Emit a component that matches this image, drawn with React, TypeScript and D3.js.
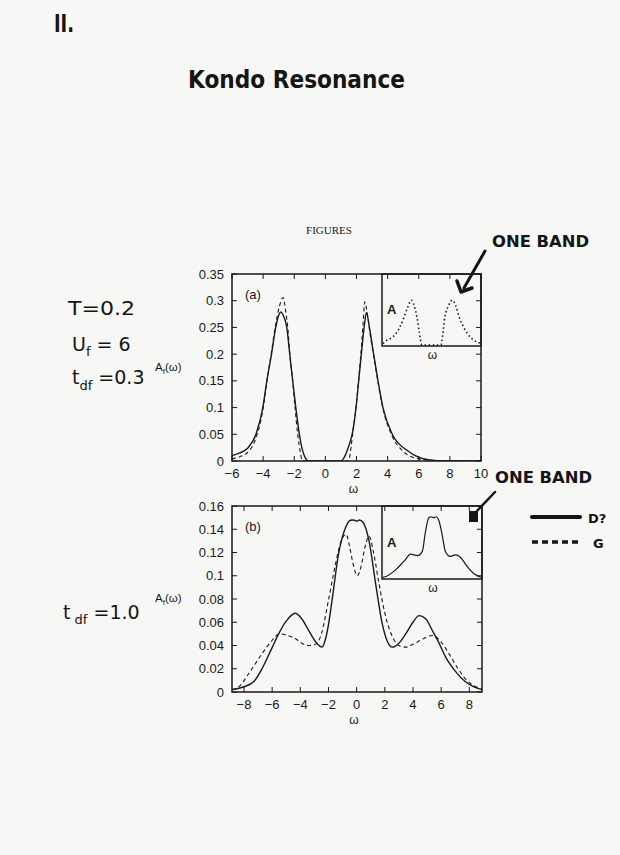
import React from "react";
import * as d3 from "d3";

// ---------- data ----------
// Panel (a): T=0.2, Uf=6, tdf=0.3
const aSolidW = [-6, -5.5, -5, -4.46, -4.02, -3.76, -3.46, -3.19, -3.0, -2.87, -2.7, -2.48, -2.29, -2.1, -1.9, -1.67, -1.45, -1.25, -1.1, 0, 1.0, 1.3, 1.5, 1.72, 1.97, 2.14, 2.31, 2.49, 2.64, 2.83, 3.1, 3.38, 3.7, 4.3, 5.24, 6, 7, 8, 10];
const aSolidA = [0.010, 0.015, 0.024, 0.05, 0.10, 0.15, 0.20, 0.25, 0.273, 0.279, 0.272, 0.25, 0.20, 0.15, 0.10, 0.05, 0.018, 0.004, 0, 0, 0, 0.012, 0.028, 0.05, 0.10, 0.15, 0.20, 0.25, 0.278, 0.25, 0.20, 0.15, 0.10, 0.05, 0.02, 0.007, 0.001, 0, 0];
const aDashW = [-6, -5.5, -5, -4.5, -4.02, -3.76, -3.46, -3.2, -2.95, -2.72, -2.55, -2.4, -2.3, -2.1, -1.95, -1.78, -1.6, -1.48, 0, 1.5, 1.6, 1.75, 1.97, 2.13, 2.28, 2.43, 2.53, 2.7, 2.9, 3.1, 3.38, 3.7, 4.3, 5.0, 6, 7, 10];
const aDashA = [0.004, 0.008, 0.016, 0.040, 0.095, 0.148, 0.205, 0.255, 0.29, 0.306, 0.28, 0.245, 0.205, 0.15, 0.10, 0.05, 0.015, 0, 0, 0, 0.015, 0.05, 0.10, 0.15, 0.20, 0.26, 0.298, 0.275, 0.232, 0.198, 0.148, 0.098, 0.046, 0.018, 0.004, 0.001, 0];

// Panel (b): tdf=1.0
const bSolidW = [-8.85, -8, -7.3, -6.72, -6.01, -5.54, -5.0, -4.36, -3.9, -3.41, -2.9, -2.46, -2.2, -2.0, -1.75, -1.28, -0.8, -0.45, -0.2, 0, 0.2, 0.45, 0.88, 1.35, 1.82, 2.2, 2.53, 3.0, 3.48, 4.0, 4.43, 4.9, 5.37, 5.85, 6.32, 7.0, 7.7, 8.22, 8.9];
const bSolidA = [0.002, 0.0045, 0.009, 0.02, 0.038, 0.050, 0.061, 0.0677, 0.063, 0.053, 0.043, 0.0386, 0.046, 0.058, 0.0786, 0.119, 0.141, 0.1477, 0.148, 0.147, 0.148, 0.146, 0.13, 0.093, 0.0586, 0.043, 0.0386, 0.042, 0.05, 0.060, 0.0657, 0.063, 0.053, 0.042, 0.030, 0.018, 0.009, 0.005, 0.002];
const bDashW = [-8.85, -8.38, -7.67, -6.72, -6.01, -5.5, -5.0, -4.36, -3.9, -3.41, -2.94, -2.5, -2.0, -1.5, -1.1, -0.75, -0.5, -0.25, 0.05, 0.35, 0.6, 0.88, 1.2, 1.59, 2.0, 2.3, 2.65, 3.0, 3.48, 4.0, 4.6, 5.37, 6.0, 6.55, 7.2, 7.74, 8.4, 8.9];
const bDashA = [0.002, 0.0043, 0.0157, 0.0329, 0.0443, 0.050, 0.049, 0.046, 0.042, 0.040, 0.041, 0.05, 0.079, 0.11, 0.13, 0.1357, 0.125, 0.11, 0.100, 0.11, 0.125, 0.134, 0.12, 0.093, 0.068, 0.055, 0.045, 0.040, 0.0386, 0.041, 0.045, 0.0486, 0.043, 0.033, 0.02, 0.011, 0.005, 0.003];

// Insets ("ONE BAND"), arbitrary units
const insetAW = [-6, -5.84, -5, -4.42, -3.9, -3.42, -2.9, -2.48, -2.2, -1.79, -1.5, -1.19, 0, 1.15, 1.4, 1.64, 2.1, 2.57, 3.0, 3.45, 4.0, 4.46, 5.0, 5.67, 6];
const insetAA = [0.02, 0.04, 0.10, 0.16, 0.26, 0.39, 0.55, 0.64, 0.58, 0.39, 0.18, 0, 0, 0, 0.15, 0.39, 0.56, 0.64, 0.56, 0.39, 0.25, 0.16, 0.09, 0.04, 0.03];
const insetBW = [-6, -5.84, -4.42, -3.42, -2.61, -2.2, -1.79, -1.19, -0.79, -0.39, -0.1, 0.2, 0.5, 0.82, 1.24, 1.64, 2.24, 2.85, 3.45, 4.27, 5.27, 6];
const insetBA = [0.01, 0.014, 0.12, 0.24, 0.34, 0.33, 0.32, 0.38, 0.67, 0.86, 0.875, 0.86, 0.875, 0.83, 0.62, 0.38, 0.31, 0.33, 0.30, 0.17, 0.05, 0.01];

// ticks
const aXTicks = [-6, -4, -2, 0, 2, 4, 6, 8, 10];
const aYTicks = [0, 0.05, 0.1, 0.15, 0.2, 0.25, 0.3, 0.35];
const aYTickLabels = ["0", "0.05", "0.1", "0.15", "0.2", "0.25", "0.3", "0.35"];
const bXTicks = [-8, -6, -4, -2, 0, 2, 4, 6, 8];
const bYTicks = [0, 0.02, 0.04, 0.06, 0.08, 0.1, 0.12, 0.14, 0.16];
const bYTickLabels = ["0", "0.02", "0.04", "0.06", "0.08", "0.1", "0.12", "0.14", "0.16"];

const INK = "#1a1a1a";
const HAND = "#151515";
const AXFONT = "'Liberation Sans', Arial, sans-serif";
const HANDFONT = "'DejaVu Sans', sans-serif";

const fmtTick = (v: number) => (v < 0 ? "\u2212" + Math.abs(v) : String(v));

function Panel(props: {
  x0: number; x1: number; y0: number; y1: number;
  xDom: [number, number]; yDom: [number, number];
  xTicks: number[]; yTicks: number[]; yLabels: string[];
  solidW: number[]; solidA: number[]; dashW: number[]; dashA: number[];
  tag: string;
}) {
  const { x0, x1, y0, y1, xDom, yDom, xTicks, yTicks, yLabels, solidW, solidA, dashW, dashA, tag } = props;
  const x = d3.scaleLinear().domain(xDom).range([x0, x1]);
  const y = d3.scaleLinear().domain(yDom).range([y1, y0]);
  const line = d3.line<[number, number]>().x((d) => x(d[0])).y((d) => y(d[1])).curve(d3.curveMonotoneX);
  const solid = line(solidW.map((w, i) => [w, solidA[i]] as [number, number])) || "";
  const dash = line(dashW.map((w, i) => [w, dashA[i]] as [number, number])) || "";
  const tl = 5;
  return (
    <g>
      <defs>
        <clipPath id={"clip" + tag}>
          <rect x={x0} y={y0} width={x1 - x0} height={y1 - y0} />
        </clipPath>
      </defs>
      <g clipPath={`url(#clip${tag})`}>
        <path d={dash} fill="none" stroke={INK} strokeWidth={1.1} strokeDasharray="4,3" />
        <path d={solid} fill="none" stroke={INK} strokeWidth={1.4} />
      </g>
      {xTicks.map((t) => (
        <g key={"xt" + t}>
          <line x1={x(t)} x2={x(t)} y1={y1} y2={y1 - tl} stroke={INK} strokeWidth={1} />
          <line x1={x(t)} x2={x(t)} y1={y0} y2={y0 + tl} stroke={INK} strokeWidth={1} />
          <text x={x(t)} y={y1 + 17} textAnchor="middle" fontFamily={AXFONT} fontSize={13} fill={INK}>
            {fmtTick(t)}
          </text>
        </g>
      ))}
      {yTicks.map((t, i) => (
        <g key={"yt" + t}>
          <line x1={x0} x2={x0 + tl} y1={y(t)} y2={y(t)} stroke={INK} strokeWidth={1} />
          <line x1={x1} x2={x1 - tl} y1={y(t)} y2={y(t)} stroke={INK} strokeWidth={1} />
          <text x={x0 - 8} y={y(t) + 4.5} textAnchor="end" fontFamily={AXFONT} fontSize={13} fill={INK}>
            {yLabels[i]}
          </text>
        </g>
      ))}
      <rect x={x0} y={y0} width={x1 - x0} height={y1 - y0} fill="none" stroke={INK} strokeWidth={1.5} />
      <text x={(x0 + x1) / 2 - 3} y={y1 + 32} textAnchor="middle" fontFamily={AXFONT} fontSize={12} fill={INK}>ω</text>
      <text x={x0 + 13} y={y0 + 25} fontFamily={AXFONT} fontSize={13} fill={INK}>({tag})</text>
      <text x={155} y={(y0 + y1) / 2 + 3} fontFamily={AXFONT} fontSize={11.5} fill={INK}>
        A<tspan fontSize={8} dy={3}>f</tspan><tspan dy={-3}>(ω)</tspan>
      </text>
    </g>
  );
}

function Inset(props: {
  x0: number; x1: number; y0: number; y1: number;
  w: number[]; a: number[]; dotted: boolean;
}) {
  const { x0, x1, y0, y1, w, a, dotted } = props;
  const x = d3.scaleLinear().domain([-6, 6]).range([x0 + 1, x1 - 1]);
  const y = d3.scaleLinear().domain([0, 1]).range([y1 - 1, y1 - 71]);
  const line = d3.line<[number, number]>().x((d) => x(d[0])).y((d) => y(d[1])).curve(d3.curveMonotoneX);
  const p = line(w.map((v, i) => [v, a[i]] as [number, number])) || "";
  return (
    <g>
      <rect x={x0} y={y0} width={x1 - x0} height={y1 - y0} fill="none" stroke={INK} strokeWidth={1.5} />
      <path d={p} fill="none" stroke={INK} strokeWidth={dotted ? 1.6 : 1.2} strokeDasharray={dotted ? "1.5,2.6" : undefined} />
      <text x={x0 + 5} y={y0 + (y1 - y0) * 0.56} fontFamily={AXFONT} fontWeight="bold" fontSize={13} fill={INK}>A</text>
      <text x={(x0 + x1) / 2 + 1} y={y1 + 13} textAnchor="middle" fontFamily={AXFONT} fontSize={12} fill={INK}>ω</text>
    </g>
  );
}

export default function App() {
  return (
    <svg width={620} height={855} style={{ position: "absolute", left: 0, top: 0, background: "#f7f7f5" }}>
      <rect x={0} y={0} width={620} height={855} fill="#f7f7f5" />
      {/* handwritten header */}
      <text x={54} y={32} fontFamily={HANDFONT} fontWeight="bold" fontSize={25} fill={HAND} textLength={20} lengthAdjust="spacingAndGlyphs">II.</text>
      <text x={188} y={88} fontFamily={HANDFONT} fontWeight="bold" fontSize={25} fill={HAND} textLength={217} lengthAdjust="spacingAndGlyphs">Kondo Resonance</text>
      <text x={329} y={234} textAnchor="middle" fontFamily="'Liberation Serif', serif" fontSize={11} fill={INK}>FIGURES</text>

      {/* ONE BAND annotations */}
      <text x={492} y={247} fontFamily={HANDFONT} fontWeight="bold" fontSize={15} fill={HAND} textLength={97} lengthAdjust="spacingAndGlyphs">ONE BAND</text>
      <line x1={485} y1={251} x2={464} y2={288} stroke={HAND} strokeWidth={3} strokeLinecap="round" />
      <polyline points="457,281 461,292 472,288" fill="none" stroke={HAND} strokeWidth={3.5} strokeLinejoin="round" strokeLinecap="round" />
      <text x={495} y={483} fontFamily={HANDFONT} fontWeight="bold" fontSize={15} fill={HAND} textLength={97} lengthAdjust="spacingAndGlyphs">ONE BAND</text>
      <line x1={495} y1={492} x2={476} y2={512} stroke={HAND} strokeWidth={2.5} strokeLinecap="round" />
      <rect x={469} y={511} width={9} height={11} fill={HAND} />

      {/* legend */}
      <line x1={532} y1={517} x2={580} y2={517} stroke={HAND} strokeWidth={4} strokeLinecap="round" />
      <text x={588} y={523} fontFamily={HANDFONT} fontWeight="bold" fontSize={13} fill={HAND}>D?</text>
      <line x1={532} y1={542} x2={580} y2={542} stroke={HAND} strokeWidth={3.5} strokeDasharray="6,4" />
      <text x={593} y={548} fontFamily={HANDFONT} fontWeight="bold" fontSize={13} fill={HAND}>G</text>

      {/* parameter notes */}
      <text x={68} y={315} fontFamily={HANDFONT} fontSize={19} fill={HAND} textLength={67} lengthAdjust="spacingAndGlyphs">T=0.2</text>
      <text x={72} y={351} fontFamily={HANDFONT} fontSize={19} fill={HAND}>
        U<tspan fontSize={13} dy={5}>f</tspan><tspan dy={-5}> = 6</tspan>
      </text>
      <text x={72} y={384} fontFamily={HANDFONT} fontSize={19} fill={HAND}>
        t<tspan fontSize={13} dy={6}>df</tspan><tspan dy={-6}> =0.3</tspan>
      </text>
      <text x={63} y={619} fontFamily={HANDFONT} fontSize={19} fill={HAND}>
        t<tspan fontSize={13} dy={5}> df</tspan><tspan dy={-5}> =1.0</tspan>
      </text>

      <Panel x0={232} x1={481} y0={274} y1={461} xDom={[-6, 10]} yDom={[0, 0.35]}
        xTicks={aXTicks} yTicks={aYTicks} yLabels={aYTickLabels}
        solidW={aSolidW} solidA={aSolidA} dashW={aDashW} dashA={aDashA} tag="a" />
      <Inset x0={382} x1={481} y0={274} y1={346} w={insetAW} a={insetAA} dotted={true} />

      <Panel x0={232} x1={482} y0={506} y1={692} xDom={[-8.85, 8.9]} yDom={[0, 0.16]}
        xTicks={bXTicks} yTicks={bYTicks} yLabels={bYTickLabels}
        solidW={bSolidW} solidA={bSolidA} dashW={bDashW} dashA={bDashA} tag="b" />
      <Inset x0={382} x1={482} y0={506} y1={579} w={insetBW} a={insetBA} dotted={false} />
    </svg>
  );
}
